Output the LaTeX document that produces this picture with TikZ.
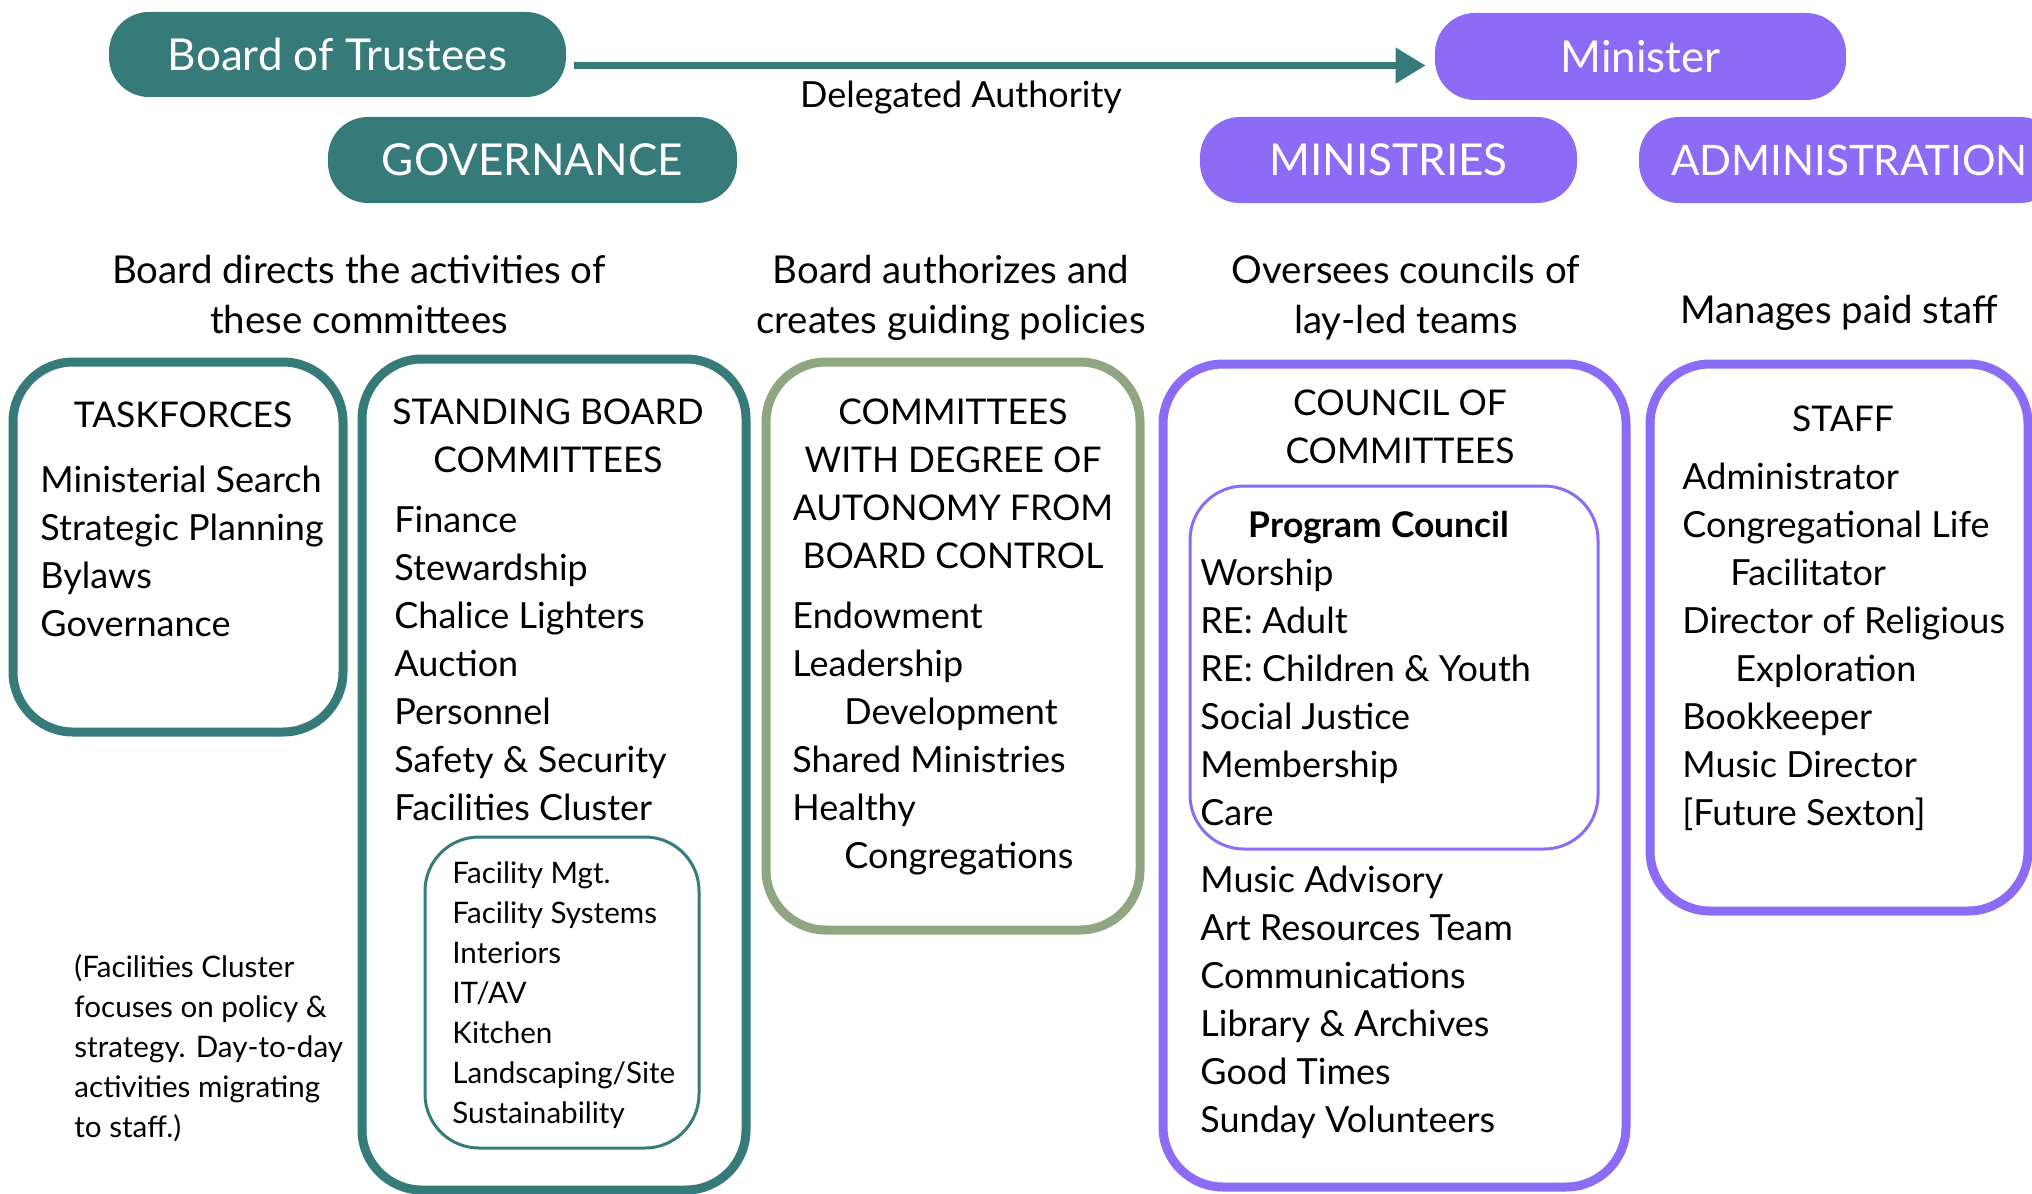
\documentclass[tikz,border=0pt]{standalone}
\usepackage{fontspec}
\setmainfont{Lato}
\usetikzlibrary{positioning,fit,arrows.meta}
\definecolor{govteal}{HTML}{367A79}
\definecolor{minpurple}{HTML}{8C6CF6}
\definecolor{sage}{HTML}{8FA680}

\begin{document}
\begin{tikzpicture}[x=0.5pt,y=-0.5pt,
    pill/.style={rounded corners=20pt, inner sep=0pt, text=white, font=\fontsize{22}{26}\selectfont},
    boxframe/.style={draw, line width=4.5pt, rounded corners=30pt, inner sep=0pt},
    subframe/.style={draw, line width=1.5pt, rounded corners=27pt, inner sep=0pt},
    lbl/.style={font=\fontsize{19.2}{25}\selectfont, align=center, anchor=base, inner sep=0pt},
    head/.style={font=\fontsize{17.7}{24}\selectfont, align=center, anchor=base, inner sep=0pt},
    items/.style={font=\fontsize{18}{24}\selectfont, align=left, anchor=base west, inner sep=0pt},
    small/.style={font=\fontsize{14.8}{20}\selectfont, align=left, anchor=base west, inner sep=0pt}]
    \useasboundingbox (0,0) rectangle (2032,1193);
    \clip (0,0) rectangle (2032,1193);

    % top row (multi-line nodes sit on their last baseline)
    \node[pill, fill=govteal, minimum width=228.5pt, minimum height=42.5pt] (board) at (337.5,54.5) {Board of Trustees};
    \node[pill, fill=minpurple, minimum width=205.5pt, minimum height=43.5pt] (minister) at (1640.5,56.5) {Minister};
    \draw[govteal, line width=3.6pt, -{Triangle[length=15pt,width=17pt]}]
        ([xshift=4pt,yshift=-5.5pt]board.east) -- ([xshift=-4.5pt,yshift=-4.5pt]minister.west);
    \node[lbl, font=\fontsize{18}{24}\selectfont] (delegated) at (961,108) {Delegated Authority};

    \node[pill, fill=govteal, minimum width=204.5pt, minimum height=43pt] (governance) at (532.5,160) {GOVERNANCE};
    \node[pill, fill=minpurple, minimum width=188.5pt, minimum height=43pt] (ministries) at (1388.5,160) {MINISTRIES};
    \node[pill, fill=minpurple, minimum width=210.5pt, minimum height=43pt, font=\fontsize{21}{26}\selectfont] (administration) at (1849.5,160) {ADMINISTRATION};

    % descriptions
    \node[lbl] (directs) at (359,333) {Board directs the activities of\\these committees};
    \node[lbl] (authorizes) at (951,333) {Board authorizes and\\creates guiding policies};
    \node[lbl] (oversees) at (1406,333) {Oversees councils of\\lay-led teams};
    \node[lbl] (manages) at (1839,323) {Manages paid staff};

    % taskforces
    \node[boxframe, govteal, fit={(13,362) (343,732)}] (taskbox) {};
    \node[head] (tasktitle) at (183,427) {TASKFORCES};
    \node[items] (tasklist) at (40,636) {Ministerial Search\\Strategic Planning\\Bylaws\\Governance};

    % standing board committees
    \node[boxframe, govteal, fit={(362,359) (746,1190)}] (standbox) {};
    \node[head] (standtitle) at (548,472) {STANDING BOARD\\COMMITTEES};
    \node[items] (standlist) at (394,820) {Finance\\Stewardship\\Chalice Lighters\\Auction\\Personnel\\Safety \& Security\\Facilities Cluster};
    \node[subframe, govteal, fit={(425,837) (699,1148)}] (facbox) {};
    \node[small] (faclist) at (452,1123) {Facility Mgt.\\Facility Systems\\Interiors\\IT/AV\\Kitchen\\Landscaping/Site\\Sustainability};
    \node[small] (facnote) at (74,1137) {(Facilities Cluster\\focuses on policy \&\\strategy. Day-to-day\\activities migrating\\to staff.)};

    % autonomous committees
    \node[boxframe, sage, fit={(766,362) (1140,930)}] (autobox) {};
    \node[head] (autotitle) at (953,568) {COMMITTEES\\WITH DEGREE OF\\AUTONOMY FROM\\BOARD CONTROL};
    \node[items] (autolist) at (792,868) {Endowment\\Leadership\\\hspace*{26pt}Development\\Shared Ministries\\Healthy\\\hspace*{26pt}Congregations};

    % council of committees
    \node[boxframe, minpurple, fit={(1163,364) (1626,1187)}] (councilbox) {};
    \node[head] (counciltitle) at (1400,463) {COUNCIL OF\\COMMITTEES};
    \node[subframe, minpurple, fit={(1190,486) (1598,849)}] (progbox) {};
    \node[head, font=\fontsize{17.7}{24}\bfseries] (progtitle) at (1379,537) {Program Council};
    \node[items] (proglist) at (1200,825) {Worship\\RE: Adult\\RE: Children \& Youth\\Social Justice\\Membership\\Care};
    \node[items] (councillist) at (1200,1132) {Music Advisory\\Art Resources Team\\Communications\\Library \& Archives\\Good Times\\Sunday Volunteers};

    % staff
    \node[boxframe, minpurple, fit={(1650,364) (2028,911)}] (staffbox) {};
    \node[head] (stafftitle) at (1843,431) {STAFF};
    \node[items] (stafflist) at (1682,825) {Administrator\\Congregational Life\\\hspace*{24pt}Facilitator\\Director of Religious\\\hspace*{26.5pt}Exploration\\Bookkeeper\\Music Director\\{[Future Sexton]}};
\end{tikzpicture}
\end{document}
